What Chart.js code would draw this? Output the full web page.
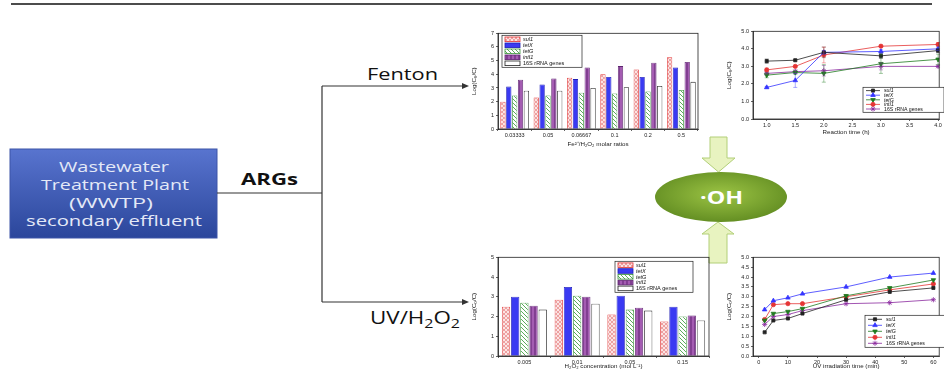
<!DOCTYPE html>
<html>
<head>
<meta charset="utf-8">
<script src="https://cdn.jsdelivr.net/npm/chart.js@4.4.1/dist/chart.umd.min.js"></script>
<style>
  body { margin: 0; background: #fff; }
  #wrap { position: relative; width: 944px; height: 370px; overflow: hidden; font-family: "Open Sans", sans-serif; }
  #wrap svg, #wrap canvas { position: absolute; }
</style>
</head>
<body>
<div id="wrap">
<svg width="944" height="370" style="left:0;top:0">
  <defs>
    <linearGradient id="boxGrad" x1="0" y1="0" x2="0" y2="1">
      <stop offset="0" stop-color="#5874cf"/>
      <stop offset="1" stop-color="#2b469b"/>
    </linearGradient>
    <radialGradient id="ohGrad" cx="0.5" cy="0.45" r="0.6">
      <stop offset="0" stop-color="#9cc444"/>
      <stop offset="1" stop-color="#5f8a20"/>
    </radialGradient>
  </defs>
  <line x1="11" y1="4" x2="932" y2="4" stroke="#111" stroke-width="1.5"/>

  <rect x="10" y="149" width="207" height="89" fill="url(#boxGrad)" stroke="#3d55a8" stroke-width="1"/>
  <g fill="#e4e9f7" font-size="14.5" text-anchor="middle">
    <text x="114" y="172" textLength="110" lengthAdjust="spacingAndGlyphs">Wastewater</text>
    <text x="115" y="190" textLength="148" lengthAdjust="spacingAndGlyphs">Treatment Plant</text>
    <text x="111" y="208" textLength="84" lengthAdjust="spacingAndGlyphs">(WWTP)</text>
    <text x="114" y="226" textLength="176" lengthAdjust="spacingAndGlyphs">secondary effluent</text>
  </g>
  <text x="269.5" y="185" font-size="16.5" font-weight="bold" text-anchor="middle" fill="#111" textLength="57" lengthAdjust="spacingAndGlyphs">ARGs</text>

  <g stroke="#333" stroke-width="1.2" fill="none">
    <line x1="217" y1="193" x2="322" y2="193"/>
    <line x1="322" y1="86" x2="322" y2="302"/>
    <line x1="322" y1="86" x2="463" y2="86"/>
    <line x1="322" y1="302" x2="463" y2="302"/>
  </g>
  <polygon points="462,83 469,86 462,89" fill="#333"/>
  <polygon points="462,299 469,302 462,305" fill="#333"/>

  <text x="402.5" y="80" font-size="17" text-anchor="middle" fill="#111" textLength="71" lengthAdjust="spacingAndGlyphs">Fenton</text>
  <text x="370" y="324" font-size="17.5" fill="#111" textLength="90" lengthAdjust="spacingAndGlyphs">UV/H<tspan font-size="12.5" dy="4">2</tspan><tspan dy="-4">O</tspan><tspan font-size="12.5" dy="4">2</tspan></text>

  <g fill="#e8f3c0" stroke="#b2cf78" stroke-width="1">
    <polygon points="710,137 727,137 727,158 735,158 718.5,172 702,158 710,158"/>
    <polygon points="718,222 734,234 727,234 727,263 709,263 709,234 702,234"/>
  </g>
  <ellipse cx="721" cy="197" rx="66" ry="25" fill="url(#ohGrad)"/>
  <text x="721.5" y="204" font-size="17" font-weight="bold" text-anchor="middle" fill="#fff" textLength="43" lengthAdjust="spacingAndGlyphs">·OH</text>
</svg>

<canvas id="fentonBar" width="240" height="120" style="left:470px;top:28px"></canvas>
<canvas id="fentonLine" width="219" height="110" style="left:725px;top:26px"></canvas>
<canvas id="uvBar" width="240" height="118" style="left:470px;top:252px"></canvas>
<canvas id="uvLine" width="219" height="118" style="left:725px;top:252px"></canvas>
</div>

<script>
// Gene names
const genes = ['sul1', 'tetX', 'tetG', 'intI1', '16S rRNA genes'];

// Fenton, bar chart: Fe2+/H2O2 molar ratios
const fentonRatios = ['0.03333', '0.05', '0.06667', '0.1', '0.2', '0.5'];
const fentonBarSul1 = [2.0, 2.3, 3.75, 4.0, 4.35, 5.25];
const fentonBarTetX = [3.1, 3.25, 3.65, 3.8, 3.8, 4.5];
const fentonBarTetG = [2.45, 2.45, 2.65, 2.6, 2.75, 2.85];
const fentonBarIntI1 = [3.6, 3.7, 4.5, 4.6, 4.85, 4.9];
const fentonBar16S = [2.8, 2.8, 3.0, 3.05, 3.15, 3.45];

// Fenton, line chart: reaction time (h)
const reactionTimes = [1.0, 1.5, 2.0, 3.0, 4.0];
const reactionTicks = [1.0, 1.5, 2.0, 2.5, 3.0, 3.5, 4.0];
const fentonLineSul1 = [3.3, 3.35, 3.8, 3.6, 3.9];
const fentonLineTetX = [1.8, 2.2, 3.8, 3.85, 4.0];
const fentonLineTetG = [2.5, 2.65, 2.6, 3.15, 3.4];
const fentonLineIntI1 = [2.8, 3.0, 3.65, 4.15, 4.25];
const fentonLine16S = [2.6, 2.7, 2.75, 3.0, 3.0];
// écarts (barres d'erreur) estimés
const fentonErrSul1 = [0.12, 0.05, 0.3, 0.15, 0.1];
const fentonErrTetX = [0.05, 0.4, 0.1, 0.1, 0.1];
const fentonErrTetG = [0.15, 0.1, 0.5, 0.55, 0.3];
const fentonErrIntI1 = [0.1, 0.05, 0.45, 0.05, 0.1];
const fentonErr16S = [0.05, 0.1, 0.3, 0.2, 0.05];

// UV/H2O2, bar chart: H2O2 concentration (mol/L)
const h2o2Conc = ['0.005', '0.01', '0.05', '0.15'];
const uvBarSul1 = [2.5, 2.85, 2.1, 1.75];
const uvBarTetX = [3.0, 3.5, 3.05, 2.5];
const uvBarTetG = [2.7, 3.05, 2.35, 2.0];
const uvBarIntI1 = [2.55, 3.0, 2.45, 2.05];
const uvBar16S = [2.35, 2.65, 2.3, 1.8];

// UV/H2O2, line chart: UV irradiation time (min)
const uvTimes = [2, 5, 10, 15, 30, 45, 60];
const uvTicks = [0, 10, 20, 30, 40, 50, 60];
const uvLineSul1 = [1.2, 1.8, 1.9, 2.15, 2.85, 3.25, 3.45];
const uvLineTetX = [2.35, 2.8, 2.95, 3.15, 3.5, 4.0, 4.2];
const uvLineTetG = [1.8, 2.15, 2.25, 2.4, 3.05, 3.45, 3.85];
const uvLineIntI1 = [1.85, 2.6, 2.65, 2.65, 3.0, 3.35, 3.65];
const uvLine16S = [1.6, 2.0, 2.1, 2.3, 2.65, 2.7, 2.85];

// motifs de remplissage des barres
function makePattern(bg, fg, kind) {
    const c = document.createElement('canvas');
    c.width = 4; c.height = 4;
    const g = c.getContext('2d');
    g.fillStyle = bg;
    g.fillRect(0, 0, 4, 4);
    g.strokeStyle = fg;
    g.lineWidth = 0.9;
    g.beginPath();
    if (kind === 'cross' || kind === 'diag') { g.moveTo(0, 0); g.lineTo(4, 4); }
    if (kind === 'cross') { g.moveTo(4, 0); g.lineTo(0, 4); }
    if (kind === 'vert') { g.lineWidth = 1.2; g.moveTo(1, 0); g.lineTo(1, 4); }
    g.stroke();
    return g.createPattern(c, 'repeat');
}

const barStyles = [
    { bg: makePattern('#fbe3e3', '#eb9a9a', 'cross'), border: '#e23535' },
    { bg: '#3a3af2', border: '#1f1fb5' },
    { bg: makePattern('#ffffff', '#4aa24a', 'diag'), border: '#3c963c' },
    { bg: makePattern('#a45cb2', '#6c2c7c', 'vert'), border: '#5e2470' },
    { bg: '#ffffff', border: '#222222' }
];

const lineStyles = [
    { color: '#222222', point: 'rect', r: 2.2, rot: 0 },
    { color: '#3535ff', point: 'triangle', r: 2.6, rot: 0 },
    { color: '#1f7a1f', point: 'triangle', r: 2.6, rot: 180 },
    { color: '#e53535', point: 'circle', r: 2.1, rot: 0 },
    { color: '#8a2a9e', point: 'star', r: 2.6, rot: 0 }
];

// cadre, barres d'erreur et légende dans la zone du graphique
const framePlugin = {
    id: 'frame',
    afterDatasetsDraw(chart) {
        const a = chart.chartArea, ctx = chart.ctx, ys = chart.scales.y;
        ctx.save();
        chart.data.datasets.forEach((ds, i) => {
            if (!ds.errors) return;
            ctx.strokeStyle = ds.borderColor;
            ctx.globalAlpha = 0.6;
            ctx.lineWidth = 0.7;
            chart.getDatasetMeta(i).data.forEach((pt, j) => {
                const v = ds.data[j].y, e = ds.errors[j];
                const y1 = ys.getPixelForValue(v - e), y2 = ys.getPixelForValue(v + e);
                ctx.beginPath();
                ctx.moveTo(pt.x, y1); ctx.lineTo(pt.x, y2);
                ctx.moveTo(pt.x - 2, y1); ctx.lineTo(pt.x + 2, y1);
                ctx.moveTo(pt.x - 2, y2); ctx.lineTo(pt.x + 2, y2);
                ctx.stroke();
            });
        });
        ctx.globalAlpha = 1;
        ctx.strokeStyle = '#222';
        ctx.lineWidth = 0.8;
        ctx.strokeRect(a.left, a.top, a.right - a.left, a.bottom - a.top);
        ctx.restore();
    }
};

const innerLegend = {
    id: 'innerLegend',
    afterDraw(chart, args, opts) {
        const a = chart.chartArea, ctx = chart.ctx;
        const x = a.left + opts.dx, y = a.top + opts.dy;
        const rowH = (opts.h - 2) / chart.data.datasets.length;
        ctx.save();
        ctx.fillStyle = '#fff';
        ctx.fillRect(x, y, opts.w, opts.h);
        ctx.strokeStyle = '#222';
        ctx.lineWidth = 0.7;
        ctx.strokeRect(x, y, opts.w, opts.h);
        chart.data.datasets.forEach((ds, i) => {
            const cy = y + 1 + rowH * (i + 0.5);
            if (opts.type === 'bar') {
                ctx.fillStyle = ds.backgroundColor;
                ctx.fillRect(x + 3, cy - 2.3, 15, 4.6);
                ctx.strokeStyle = ds.borderColor;
                ctx.lineWidth = 0.8;
                ctx.strokeRect(x + 3, cy - 2.3, 15, 4.6);
            } else {
                ctx.strokeStyle = ds.borderColor;
                ctx.lineWidth = 0.8;
                ctx.beginPath();
                ctx.moveTo(x + 3, cy);
                ctx.lineTo(x + 17, cy);
                ctx.stroke();
                ctx.fillStyle = ds.pointBackgroundColor;
                Chart.helpers.drawPoint(ctx, {
                    pointStyle: ds.pointStyle, radius: ds.pointRadius,
                    rotation: ds.pointRotation, borderWidth: 0.8
                }, x + 10, cy);
            }
            ctx.fillStyle = '#111';
            ctx.textBaseline = 'middle';
            ctx.font = (i < 4 ? 'italic ' : '') + opts.font + 'px Arial, "Liberation Sans", sans-serif';
            ctx.fillText(genes[i], x + 21, cy + 0.3);
        });
        ctx.restore();
    }
};

const tickFont = { size: 5.5, family: 'Arial, "Liberation Sans", sans-serif' };
const titleFont = { size: 6.2, family: 'Arial, "Liberation Sans", sans-serif' };

function yAxis(max, step, fmt) {
    return {
        min: 0, max,
        ticks: { stepSize: step, font: tickFont, color: '#222', padding: 2, callback: fmt },
        grid: { drawOnChartArea: false, tickLength: 2, color: '#222', lineWidth: 0.7 },
        border: { color: '#222', width: 0.8 },
        title: { display: true, text: 'Log(C₀/C)', font: titleFont, color: '#222', padding: 1 },
        afterFit: s => { s.width = 28; }
    };
}

function xTitle(text) {
    return { display: true, text, font: titleFont, color: '#222', padding: { top: 1, bottom: 0 } };
}

function barChart(id, labels, series, opts) {
    createChart(id, 'bar', {
        labels,
        datasets: series.map((d, i) => ({
            label: genes[i], data: d,
            backgroundColor: barStyles[i].bg, borderColor: barStyles[i].border, borderWidth: 0.8,
            categoryPercentage: opts.cat, barPercentage: 0.9
        }))
    }, {
        layout: { padding: opts.padding },
        scales: {
            x: {
                ticks: { font: tickFont, color: '#222', padding: 1 },
                grid: { drawOnChartArea: false, tickLength: 2, color: '#222', lineWidth: 0.7 },
                border: { color: '#222', width: 0.8 },
                title: xTitle(opts.xTitle),
                afterFit: s => { s.height = opts.xh; }
            },
            y: yAxis(opts.ymax, 1, v => v)
        },
        plugins: { innerLegend: Object.assign({ type: 'bar', font: 5.5 }, opts.legend) }
    });
}

function lineChart(id, xs, series, opts) {
    createChart(id, 'line', {
        datasets: series.map((d, i) => ({
            label: genes[i],
            data: xs.map((x, j) => ({ x, y: d[j] })),
            errors: opts.errors ? opts.errors[i] : null,
            borderColor: lineStyles[i].color, borderWidth: 0.8,
            pointStyle: lineStyles[i].point, pointRadius: lineStyles[i].r, pointRotation: lineStyles[i].rot,
            pointBackgroundColor: lineStyles[i].color, pointBorderColor: lineStyles[i].color, pointBorderWidth: 0.8
        }))
    }, {
        layout: { padding: opts.padding },
        scales: {
            x: {
                type: 'linear', min: opts.xmin, max: opts.xmax,
                afterBuildTicks: s => { s.ticks = opts.xticks.map(v => ({ value: v })); },
                ticks: { font: tickFont, color: '#222', padding: 1, callback: opts.xfmt },
                grid: { drawOnChartArea: false, tickLength: 2, color: '#222', lineWidth: 0.7 },
                border: { color: '#222', width: 0.8 },
                title: xTitle(opts.xTitle),
                afterFit: s => { s.height = opts.xh; }
            },
            y: yAxis(5, 0.5, v => v.toFixed(1))
        },
        plugins: { innerLegend: Object.assign({ type: 'line', font: 5.2 }, opts.legend) }
    });
}

function createChart(id, type, data, options) {
    const ctx = document.getElementById(id).getContext('2d');
    return new Chart(ctx, {
        type, data,
        options: Object.assign({
            responsive: false, animation: false,
            elements: { line: { tension: 0 } }
        }, options, {
            plugins: Object.assign({ legend: { display: false }, tooltip: { enabled: false } }, options.plugins)
        }),
        plugins: [framePlugin, innerLegend]
    });
}

barChart('fentonBar', fentonRatios,
    [fentonBarSul1, fentonBarTetX, fentonBarTetG, fentonBarIntI1, fentonBar16S], {
        cat: 0.88, ymax: 7, xh: 19, xTitle: 'Fe²⁺/H₂O₂ molar ratios',
        padding: { top: 3, right: 12, left: 0, bottom: 0 },
        legend: { dx: 4, dy: 2, w: 80, h: 32 }
    });

lineChart('fentonLine', reactionTimes,
    [fentonLineSul1, fentonLineTetX, fentonLineTetG, fentonLineIntI1, fentonLine16S], {
        xmin: 0.76, xmax: 4.02, xticks: reactionTicks, xfmt: v => v.toFixed(1),
        xh: 17, xTitle: 'Reaction time (h)',
        errors: [fentonErrSul1, fentonErrTetX, fentonErrTetG, fentonErrIntI1, fentonErr16S],
        padding: { top: 5, right: 1, left: 0, bottom: 0 },
        legend: { dx: 110, dy: 56, w: 81, h: 25 }
    });

barChart('uvBar', h2o2Conc,
    [uvBarSul1, uvBarTetX, uvBarTetG, uvBarIntI1, uvBar16S], {
        cat: 0.87, ymax: 5, xh: 14, xTitle: 'H₂O₂ concentration (mol L⁻¹)',
        padding: { top: 5, right: 1, left: 0, bottom: 0 },
        legend: { dx: 117, dy: 4, w: 78, h: 31 }
    });

lineChart('uvLine', uvTimes,
    [uvLineSul1, uvLineTetX, uvLineTetG, uvLineIntI1, uvLine16S], {
        xmin: -2, xmax: 62, xticks: uvTicks, xfmt: v => v,
        xh: 14, xTitle: 'UV irradiation time (min)',
        padding: { top: 5, right: 0, left: 0, bottom: 0 },
        legend: { dx: 112, dy: 58, w: 80, h: 32 }
    });
</script>
</body>
</html>
